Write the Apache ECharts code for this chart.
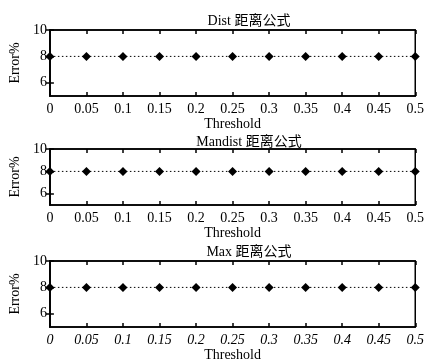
<!DOCTYPE html>
<html><head><meta charset="utf-8">
<script src="https://cdn.jsdelivr.net/npm/echarts@6/dist/echarts.min.js"></script>
<style>html,body{margin:0;padding:0;background:#fff}#c{width:427px;height:363px}</style>
</head><body><div id="c"></div>
<script>
const thresholds = [0, 0.05, 0.1, 0.15, 0.2, 0.25, 0.3, 0.35, 0.4, 0.45, 0.5];
const distErr    = [8, 8, 8, 8, 8, 8, 8, 8, 8, 8, 8];
const mandistErr = [8, 8, 8, 8, 8, 8, 8, 8, 8, 8, 8];
const maxErr     = [8, 8, 8, 8, 8, 8, 8, 8, 8, 8, 8];
const titles = ['Dist 距离公式', 'Mandist 距离公式', 'Max 距离公式'];
const yTicks = [6, 8, 10];
const xTickLabels = ['0','0.05','0.1','0.15','0.2','0.25','0.3','0.35','0.4','0.45','0.5'];

const FONT = '"Liberation Serif", "Noto Sans CJK SC", serif';
const grids = [
  {left: 46, right: 5, top: 30, height: 66},
  {left: 46, right: 5, top: 149, height: 56},
  {left: 46, right: 5, top: 261, height: 67}
];
const titleTops = [9, 130, 240];
const seriesData = [distErr, mandistErr, maxErr];

const option = {
  animation: false,
  backgroundColor: '#fff',
  title: titles.map((t, i) => ({
    text: t, left: 244, top: titleTops[i], textAlign: 'center',
    textStyle: {fontFamily: FONT, fontSize: 14, fontWeight: 'normal', color: '#000'}
  })),
  grid: grids.map(g => Object.assign({show: true, borderColor: '#000', borderWidth: 1.5, backgroundColor: 'transparent'}, g)),
  xAxis: [],
  yAxis: [],
  series: []
};

for (let i = 0; i < 3; i++) {
  const italic = i === 2 ? 'italic' : 'normal';
  option.xAxis.push({
    type: 'value', gridIndex: i, min: 0, max: 0.5, interval: 0.05, position: 'bottom',
    name: 'Threshold', nameLocation: 'middle', nameGap: 21,
    nameTextStyle: {fontFamily: FONT, fontSize: 14, color: '#000'},
    axisLine: {lineStyle: {color: '#000', width: 1.5}},
    axisTick: {inside: true, length: 4, lineStyle: {color: '#000', width: 1.5}},
    axisLabel: {fontFamily: FONT, fontSize: 14, color: '#000', margin: 6, fontStyle: italic,
      formatter: v => { const k = Math.round(v / 0.05); return xTickLabels[k] !== undefined ? xTickLabels[k] : ''; }},
    splitLine: {show: false}
  });
  option.xAxis.push({
    type: 'value', gridIndex: i, min: 0, max: 0.5, interval: 0.05, position: 'top',
    axisLine: {show: true, lineStyle: {color: '#000', width: 1.5}},
    axisTick: {inside: true, length: 4, lineStyle: {color: '#000', width: 1.5}},
    axisLabel: {show: false}, splitLine: {show: false}
  });
  option.yAxis.push({
    type: 'value', gridIndex: i, min: 5, max: 10, interval: 1, position: 'left',
    name: 'Error%', nameLocation: 'middle', nameGap: 23, nameRotate: 90,
    nameTextStyle: {fontFamily: FONT, fontSize: 14, color: '#000'},
    axisLine: {show: true, lineStyle: {color: '#000', width: 1.5}},
    axisTick: {inside: true, length: 4, customValues: yTicks, lineStyle: {color: '#000', width: 1.5}},
    axisLabel: {fontFamily: FONT, fontSize: 14, color: '#000', margin: 3, customValues: yTicks},
    splitLine: {show: false}
  });
  option.yAxis.push({
    type: 'value', gridIndex: i, min: 5, max: 10, interval: 1, position: 'right',
    axisLine: {show: true, lineStyle: {color: '#000', width: 1.5}},
    axisTick: {inside: true, length: 4, customValues: yTicks, lineStyle: {color: '#000', width: 1.5}},
    axisLabel: {show: false}, splitLine: {show: false}
  });
  option.series.push({
    type: 'line', xAxisIndex: i * 2, yAxisIndex: i * 2, clip: false,
    data: thresholds.map((x, k) => [x, seriesData[i][k]]),
    symbol: 'diamond', symbolSize: 9, showSymbol: true,
    itemStyle: {color: '#000'},
    lineStyle: {color: '#000', width: 1, type: [1.5, 2.5]}
  });
}

const chart = echarts.init(document.getElementById('c'), null, {renderer: 'canvas'});
chart.setOption(option);
</script>
</body></html>
